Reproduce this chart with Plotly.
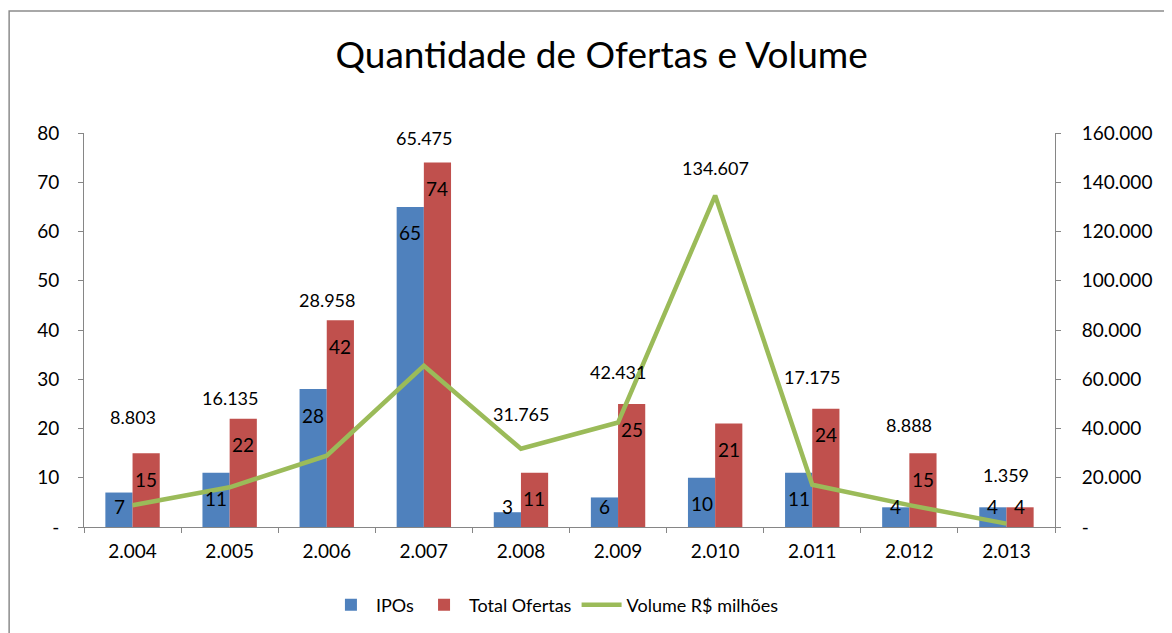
import plotly.graph_objects as go

categories = ["2.004", "2.005", "2.006", "2.007", "2.008", "2.009", "2.010", "2.011", "2.012", "2.013"]
ipos = [7, 11, 28, 65, 3, 6, 10, 11, 4, 4]
total_ofertas = [15, 22, 42, 74, 11, 25, 21, 24, 15, 4]
volume = [8803, 16135, 28958, 65475, 31765, 42431, 134607, 17175, 8888, 1359]
volume_labels = ["8.803", "16.135", "28.958", "65.475", "31.765", "42.431", "134.607", "17.175", "8.888", "1.359"]
# vertical placement of the volume labels (right-axis units), as positioned in the source chart
volume_label_pos = [44800, 52400, 92200, 158000, 45900, 63100, 145800, 61000, 41400, 21100]

left_ticks = [0, 10, 20, 30, 40, 50, 60, 70, 80]
left_ticktext = ["-", "10", "20", "30", "40", "50", "60", "70", "80"]
right_ticks = [0, 20000, 40000, 60000, 80000, 100000, 120000, 140000, 160000]
right_ticktext = ["-", "20.000", "40.000", "60.000", "80.000", "100.000", "120.000", "140.000", "160.000"]

BLUE = "#4F81BD"
RED = "#C0504D"
GREEN = "#9BBB59"
AXIS = "#868686"
FONT = "Lato"

fig = go.Figure()
fig.add_trace(go.Bar(x=categories, y=ipos, name="IPOs", marker=dict(color=BLUE, line=dict(width=0))))
fig.add_trace(go.Bar(x=categories, y=total_ofertas, name="Total Ofertas", marker=dict(color=RED, line=dict(width=0))))
fig.add_trace(go.Scatter(x=categories, y=volume, name="Volume R$ milhões", mode="lines",
                         line=dict(color=GREEN, width=4.5), yaxis="y2"))

annotations = []
min_anchor = 9.5
for i, c in enumerate(categories):
    for vals, shift in ((ipos, -13.5), (total_ofertas, 13.5)):
        v = vals[i]
        annotations.append(dict(x=i, y=max(v, min_anchor), xref="x", yref="y", text=str(v),
                                showarrow=False, xanchor="center", yanchor="middle",
                                xshift=shift, yshift=-26, font=dict(family=FONT, size=19, color="black")))
    annotations.append(dict(x=i, y=volume_label_pos[i], xref="x", yref="y2", text=volume_labels[i],
                            showarrow=False, xanchor="center", yanchor="middle",
                            font=dict(family=FONT, size=18, color="black")))

fig.update_layout(
    width=1164, height=625,
    margin=dict(l=76, r=117, t=125, b=106, autoexpand=False),
    paper_bgcolor="white", plot_bgcolor="white",
    barmode="group", bargap=0.44, bargroupgap=0,
    title=dict(text="Quantidade de Ofertas e Volume", x=0.51, xanchor="center", y=0.925, yanchor="middle",
               font=dict(family=FONT, size=37, color="black")),
    font=dict(family=FONT, size=18, color="black"),
    xaxis=dict(type="category", showline=True, linecolor=AXIS, linewidth=1, ticks="outside", ticklen=5,
               tickcolor=AXIS, tickson="boundaries", showgrid=False, ticklabelstandoff=7,
               tickfont=dict(family=FONT, size=19, color="black")),
    yaxis=dict(range=[0, 80], tickvals=left_ticks, ticktext=left_ticktext, showline=True,
               linecolor=AXIS, ticks="outside", ticklen=5, tickcolor=AXIS, showgrid=False,
               zeroline=False, ticklabelstandoff=15, tickfont=dict(family=FONT, size=19, color="black")),
    yaxis2=dict(range=[0, 160000], tickvals=right_ticks, ticktext=right_ticktext, overlaying="y",
                side="right", showline=True, linecolor=AXIS, ticks="outside", ticklen=5,
                tickcolor=AXIS, showgrid=False, zeroline=False, ticklabelstandoff=17,
                tickfont=dict(family=FONT, size=19, color="black")),
    legend=dict(orientation="h", x=0.485, xanchor="center", y=-0.198, yanchor="middle",
                font=dict(family=FONT, size=18, color="black"), itemwidth=40),
    annotations=annotations,
    shapes=[dict(type="rect", xref="paper", yref="paper", x0=-0.0771, x1=1.3, y0=-0.4, y1=1.3096,
                 line=dict(color="#8C8C8C", width=1.5), fillcolor="rgba(0,0,0,0)", layer="below")],
)

fig.write_html("out.html")
